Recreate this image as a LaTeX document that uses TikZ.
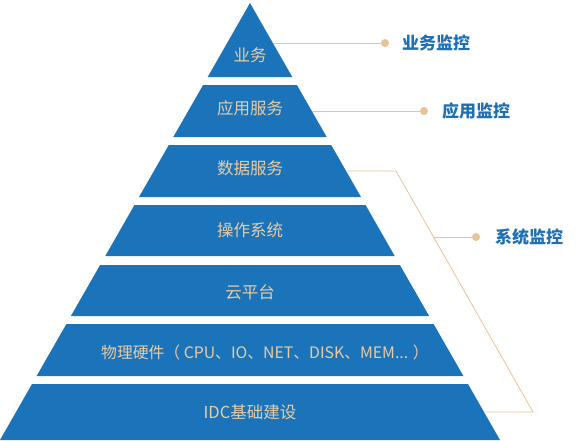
\documentclass[tikz,border=0pt]{standalone}
\usepackage{fontspec}
\setmainfont{Noto Sans CJK SC}
\definecolor{layerblue}{HTML}{1B74BA}
\definecolor{sand}{HTML}{E8C397}
\definecolor{sandtext}{HTML}{E9CBA3}
\definecolor{tagblue}{HTML}{1E70B6}
\tikzset{
  layer/.style={fill=layerblue, draw=none},
  layertext/.style={text=sandtext, font=\fontsize{16.5}{19}\selectfont},
  tagtext/.style={text=tagblue, font=\fontsize{17}{20}\selectfont\bfseries, anchor=west, inner sep=0pt},
  tagline/.style={draw=sand, line width=0.8pt},
  tagdot/.style={circle, fill=sand, inner sep=0pt, minimum size=8pt}
}
\begin{document}
\begin{tikzpicture}[x=1pt, y=-1pt]
          \useasboundingbox (0,0) rectangle (576,440);
          % pyramid layers
          \fill[layer] (250,3) -- (292.3,77) -- (207.7,77) -- cycle;
          \fill[layer] (203.1,85) -- (296.9,85) -- (326.7,137) -- (173.3,137) -- cycle;
          \fill[layer] (168.8,145) -- (331.2,145) -- (361.0,197) -- (139.0,197) -- cycle;
          \fill[layer] (134.4,205) -- (365.6,205) -- (394.7,256) -- (105.3,256) -- cycle;
          \fill[layer] (100.1,265) -- (399.9,265) -- (429.1,316) -- (70.9,316) -- cycle;
          \fill[layer] (66.4,324) -- (433.6,324) -- (463.4,376) -- (36.6,376) -- cycle;
          \fill[layer] (32.0,384) -- (468.0,384) -- (500,440) -- (0,440) -- cycle;

          \node[layertext] (biz) at (250,55) {业务};
          \node[layertext] (app) at (250,108) {应用服务};
          \node[layertext] (data) at (250,168) {数据服务};
          \node[layertext] (os) at (250,230) {操作系统};
          \node[layertext] (cloud) at (250,292) {云平台};
          \node[layertext, font=\fontsize{15.8}{19}\selectfont] (hw) at (265,352) {物理硬件（ CPU、IO、NET、DISK、MEM... ）};
          \node[layertext] (idc) at (250,412) {IDC基础建设};

          % monitoring tags
          \coordinate (bizedge) at (273,43);
          \node[tagdot] (bizdot) at (385,43) {};
          \node[tagtext] (biztag) at (402,43) {业务监控};
          \draw[tagline] (bizedge) -- (bizdot);

          \coordinate (appedge) at (312,111);
          \node[tagdot] (appdot) at (424,111) {};
          \node[tagtext] (apptag) at (442,111) {应用监控};
          \draw[tagline] (appedge) -- (appdot);

          \coordinate (systop) at (347,171);
          \coordinate (sysbend) at (396,171);
          \coordinate (sysfoot) at (533,412);
          \coordinate (sysbottom) at (485,412);
          \coordinate (sysmid) at (433.5,237);
          \node[tagdot] (sysdot) at (476,237) {};
          \node[tagtext] (systag) at (495,237) {系统监控};
          \draw[tagline] (systop) -- (sysbend) -- (sysfoot) -- (sysbottom);
          \draw[tagline] (sysmid) -- (sysdot);
        \end{tikzpicture}
\end{document}
